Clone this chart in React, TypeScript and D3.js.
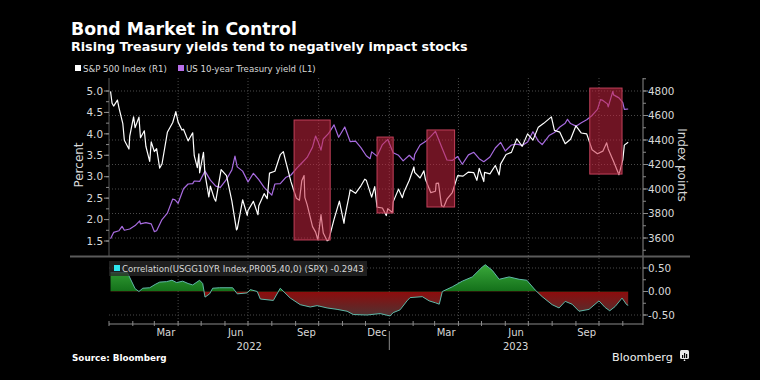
import React from 'react';
import * as d3 from 'd3';

const spxSeries: [string, number][] = [
  ["2022-01-03",4797],["2022-01-05",4700],["2022-01-07",4677],["2022-01-12",4726],["2022-01-14",4663],["2022-01-19",4533],["2022-01-21",4398],["2022-01-27",4326],["2022-01-28",4432],["2022-02-02",4589],["2022-02-04",4501],["2022-02-09",4587],["2022-02-11",4419],["2022-02-16",4475],["2022-02-18",4349],["2022-02-23",4225],["2022-02-25",4385],["2022-03-01",4306],["2022-03-04",4329],["2022-03-08",4171],["2022-03-11",4204],["2022-03-18",4463],["2022-03-25",4543],["2022-03-29",4632],["2022-04-01",4546],["2022-04-06",4481],["2022-04-08",4488],["2022-04-14",4393],["2022-04-20",4459],["2022-04-22",4272],["2022-04-26",4175],["2022-04-28",4287],["2022-04-29",4132],["2022-05-04",4300],["2022-05-06",4123],["2022-05-11",3935],["2022-05-13",4024],["2022-05-18",3923],["2022-05-20",3901],["2022-05-27",4158],["2022-06-03",4109],["2022-06-10",3901],["2022-06-16",3667],["2022-06-17",3675],["2022-06-24",3912],["2022-06-30",3785],["2022-07-01",3825],["2022-07-08",3899],["2022-07-14",3790],["2022-07-15",3863],["2022-07-22",3962],["2022-07-26",3921],["2022-07-29",4130],["2022-08-05",4145],["2022-08-12",4280],["2022-08-16",4305],["2022-08-19",4228],["2022-08-26",4058],["2022-09-02",3924],["2022-09-06",3908],["2022-09-09",4067],["2022-09-12",4110],["2022-09-13",3932],["2022-09-16",3873],["2022-09-23",3693],["2022-09-27",3648],["2022-09-30",3586],["2022-10-04",3791],["2022-10-07",3640],["2022-10-12",3577],["2022-10-14",3583],["2022-10-21",3752],["2022-10-28",3901],["2022-11-03",3720],["2022-11-04",3771],["2022-11-10",3956],["2022-11-11",3993],["2022-11-18",3965],["2022-11-25",4026],["2022-11-30",4080],["2022-12-02",4072],["2022-12-09",3934],["2022-12-13",4019],["2022-12-16",3852],["2022-12-23",3845],["2022-12-28",3783],["2022-12-30",3840],
  ["2023-01-05",3808],["2023-01-06",3895],["2023-01-13",3999],["2023-01-18",3929],["2023-01-20",3973],["2023-01-27",4071],["2023-02-02",4180],["2023-02-03",4136],["2023-02-10",4090],["2023-02-15",4148],["2023-02-17",4079],["2023-02-24",3970],["2023-03-02",3982],["2023-03-03",4046],["2023-03-06",4048],["2023-03-10",3862],["2023-03-13",3855],["2023-03-17",3917],["2023-03-24",3971],["2023-03-31",4109],["2023-04-07",4105],["2023-04-14",4138],["2023-04-21",4133],["2023-04-25",4071],["2023-04-28",4169],["2023-05-04",4061],["2023-05-05",4136],["2023-05-12",4124],["2023-05-19",4192],["2023-05-24",4115],["2023-05-26",4205],["2023-06-02",4282],["2023-06-09",4299],["2023-06-16",4410],["2023-06-23",4348],["2023-06-30",4450],["2023-07-07",4399],["2023-07-14",4505],["2023-07-21",4536],["2023-07-31",4589],["2023-08-04",4478],["2023-08-11",4464],["2023-08-18",4370],["2023-08-25",4406],["2023-09-01",4516],["2023-09-08",4457],["2023-09-15",4450],["2023-09-22",4320],["2023-09-29",4288],["2023-10-06",4309],["2023-10-11",4377],["2023-10-13",4327],["2023-10-20",4224],["2023-10-27",4117],["2023-11-01",4237],["2023-11-03",4358],["2023-11-08",4382]
];

const yieldSeries: [string, number][] = [
  ["2022-01-03",1.55],["2022-01-07",1.70],["2022-01-14",1.74],["2022-01-18",1.84],["2022-01-21",1.75],["2022-01-28",1.78],["2022-02-04",1.86],["2022-02-10",1.97],["2022-02-11",1.90],["2022-02-18",1.93],["2022-02-25",1.90],["2022-03-01",1.72],["2022-03-04",1.74],["2022-03-11",2.00],["2022-03-18",2.15],["2022-03-25",2.48],["2022-03-28",2.46],["2022-04-01",2.38],["2022-04-08",2.72],["2022-04-14",2.83],["2022-04-20",2.84],["2022-04-22",2.90],["2022-04-29",2.89],["2022-05-06",3.13],["2022-05-13",2.92],["2022-05-20",2.78],["2022-05-26",2.75],["2022-06-03",2.94],["2022-06-10",3.16],["2022-06-14",3.48],["2022-06-17",3.23],["2022-06-24",3.13],["2022-07-01",2.88],["2022-07-08",3.08],["2022-07-15",2.93],["2022-07-22",2.75],["2022-08-01",2.57],["2022-08-05",2.83],["2022-08-12",2.84],["2022-08-19",2.98],["2022-08-26",3.04],["2022-09-02",3.19],["2022-09-09",3.32],["2022-09-16",3.45],["2022-09-23",3.69],["2022-09-27",3.95],["2022-09-30",3.83],["2022-10-04",3.62],["2022-10-07",3.88],["2022-10-14",4.01],["2022-10-21",4.21],["2022-10-27",3.92],["2022-11-04",4.16],["2022-11-11",3.82],["2022-11-18",3.83],["2022-11-25",3.68],["2022-12-02",3.49],["2022-12-07",3.42],["2022-12-09",3.58],["2022-12-16",3.48],["2022-12-23",3.75],["2022-12-30",3.87],
  ["2023-01-06",3.56],["2023-01-13",3.50],["2023-01-19",3.37],["2023-01-27",3.50],["2023-02-02",3.39],["2023-02-03",3.52],["2023-02-10",3.74],["2023-02-17",3.82],["2023-02-24",3.94],["2023-03-02",4.06],["2023-03-10",3.70],["2023-03-17",3.39],["2023-03-24",3.38],["2023-03-31",3.47],["2023-04-06",3.29],["2023-04-14",3.51],["2023-04-21",3.57],["2023-04-28",3.42],["2023-05-04",3.35],["2023-05-12",3.46],["2023-05-19",3.67],["2023-05-26",3.80],["2023-06-01",3.60],["2023-06-09",3.74],["2023-06-16",3.76],["2023-06-23",3.73],["2023-06-30",3.81],["2023-07-07",4.05],["2023-07-14",3.83],["2023-07-19",3.75],["2023-07-28",3.96],["2023-08-04",4.03],["2023-08-11",4.16],["2023-08-18",4.25],["2023-08-21",4.34],["2023-08-25",4.24],["2023-09-01",4.18],["2023-09-08",4.26],["2023-09-15",4.33],["2023-09-22",4.43],["2023-09-29",4.57],["2023-10-03",4.80],["2023-10-06",4.78],["2023-10-12",4.70],["2023-10-13",4.63],["2023-10-19",4.99],["2023-10-20",4.91],["2023-10-27",4.84],["2023-11-01",4.73],["2023-11-03",4.57],["2023-11-08",4.58]
];

const corrSeries: [string, number][] = [
  ["2022-01-03",0.40],["2022-01-25",0.40],["2022-02-04",0.06],["2022-02-09",0.0],["2022-02-14",0.07],["2022-02-23",0.08],["2022-03-02",0.15],["2022-03-08",0.20],["2022-03-17",0.21],["2022-03-24",0.24],["2022-03-30",0.19],["2022-04-07",0.22],["2022-04-14",0.17],["2022-04-20",0.14],["2022-04-29",0.24],["2022-05-03",0.17],["2022-05-06",-0.12],["2022-05-12",-0.05],["2022-05-16",0.07],["2022-05-25",0.08],["2022-06-11",0.08],["2022-06-17",-0.05],["2022-06-30",-0.03],["2022-07-04",0.04],["2022-07-13",0.0],["2022-07-17",-0.16],["2022-08-03",-0.19],["2022-08-12",0.07],["2022-08-25",-0.14],["2022-09-07",-0.28],["2022-09-20",-0.33],["2022-09-29",-0.30],["2022-10-12",-0.35],["2022-10-25",-0.38],["2022-11-07",-0.42],["2022-11-15",-0.49],["2022-12-03",-0.50],["2022-12-20",-0.47],["2023-01-02",-0.52],["2023-01-06",-0.45],["2023-01-15",-0.39],["2023-01-24",-0.20],["2023-01-28",-0.13],["2023-02-13",-0.11],["2023-02-22",-0.20],["2023-03-02",-0.24],["2023-03-07",-0.27],["2023-03-11",0.0],["2023-03-24",0.10],["2023-04-06",0.22],["2023-04-19",0.31],["2023-05-02",0.52],["2023-05-06",0.57],["2023-05-15",0.45],["2023-05-24",0.26],["2023-06-06",0.31],["2023-06-19",0.26],["2023-06-29",0.24],["2023-07-10",0.03],["2023-07-19",-0.11],["2023-08-01",-0.28],["2023-08-10",-0.35],["2023-08-18",-0.21],["2023-08-27",-0.27],["2023-09-05",-0.42],["2023-09-18",-0.38],["2023-10-01",-0.20],["2023-10-09",-0.34],["2023-10-15",-0.41],["2023-10-22",-0.32],["2023-10-31",-0.14],["2023-11-06",-0.28],["2023-11-08",-0.2943]
];

// highlighted periods: start, end, S&P low, S&P high
const boxes: [string, string, number, number][] = [
  ["2022-08-30","2022-10-16",3584,4563],
  ["2022-12-16","2023-01-06",3804,4424],
  ["2023-02-19","2023-03-27",3853,4482],
  ["2023-09-19","2023-10-31",4122,4824],
];

const leftTicks = [1.5, 2.0, 2.5, 3.0, 3.5, 4.0, 4.5, 5.0];
const rightTicks = [3600, 3800, 4000, 4200, 4400, 4600, 4800];
const corrTicks = [-0.5, 0, 0.5];
const monthLabelDates = ["2022-03-16","2022-06-15","2022-09-15","2022-12-16","2023-03-16","2023-06-15","2023-09-15"];
const yearLabels = ["2022", "2023"];

const parse = d3.timeParse("%Y-%m-%d");
const FONT = "'DejaVu Sans', Verdana, sans-serif";

export default function App() {
  const W = 760, H = 380;
  const x0 = 109, x1 = 642;
  const mainTop = 78, mainBottom = 256;
  const axisY = 324;
  const start = new Date(2022, 0, 1);
  const end = new Date(2023, 10, 26);
  const x = d3.scaleTime().domain([start, end]).range([x0, x1]);
  const yL = d3.scaleLinear().domain([1.5, 5.0]).range([241, 91]);
  const yR = d3.scaleLinear().domain([3600, 4800]).range([238, 91]);
  const yC = d3.scaleLinear().domain([-0.5, 0.5]).range([315, 268]);

  const spx = spxSeries.map(([d, v]) => ({ d: parse(d)!, v }));
  const yld = yieldSeries.map(([d, v]) => ({ d: parse(d)!, v }));
  const cor = corrSeries.map(([d, v]) => ({ d: parse(d)!, v }));

  const spxLine = d3.line<{ d: Date; v: number }>().x(p => x(p.d)).y(p => yR(p.v))(spx)!;
  const yldLine = d3.line<{ d: Date; v: number }>().x(p => x(p.d)).y(p => yL(p.v))(yld)!;
  const corLine = d3.line<{ d: Date; v: number }>().x(p => x(p.d)).y(p => yC(p.v))(cor)!;
  const corArea = d3.area<{ d: Date; v: number }>().x(p => x(p.d)).y0(yC(0)).y1(p => yC(p.v))(cor)!;

  const quarters = d3.timeMonth.every(3)!.range(new Date(2022, 3, 1), end);
  const months = d3.timeMonth.range(start, end);
  const yearSep = new Date(2023, 0, 1);
  const fmtMonth = d3.timeFormat("%b");

  const leftMinor = d3.range(1.5, 5.01, 0.25);
  const rightMinor = d3.range(3500, 4901, 100);
  const corrMinor = d3.range(-0.5, 0.51, 0.25);
  const grid = "#4a4a4a";
  const axisCol = "#8a8a8a";
  const txt = "#d8d8d8";

  return (
    <svg width={W} height={H} style={{ position: 'absolute', left: 0, top: 0, display: 'block' }} fontFamily={FONT}>
      <defs>
        <linearGradient id="gGreen" gradientUnits="userSpaceOnUse" x1="0" x2="0" y1={yC(0.6)} y2={yC(0)}>
          <stop offset="0" stopColor="#3cab3c" />
          <stop offset="1" stopColor="#13701a" />
        </linearGradient>
        <linearGradient id="gRed" gradientUnits="userSpaceOnUse" x1="0" x2="0" y1={yC(0)} y2={yC(-0.55)}>
          <stop offset="0" stopColor="#8e0c0c" />
          <stop offset="1" stopColor="#4a3434" />
        </linearGradient>
        <clipPath id="above"><rect x={x0} y={mainBottom} width={x1 - x0} height={yC(0) - mainBottom} /></clipPath>
        <clipPath id="below"><rect x={x0} y={yC(0)} width={x1 - x0} height={axisY - yC(0)} /></clipPath>
      </defs>
      <rect x={0} y={0} width={W} height={H} fill="#000" />

      {/* Titles */}
      <text x={71} y={35} fill="#fff" fontSize={17.3} fontWeight="bold">Bond Market in Control</text>
      <text x={71} y={51} fill="#fff" fontSize={12.7} fontWeight="bold">Rising Treasury yields tend to negatively impact stocks</text>

      {/* Legend */}
      <rect x={75} y={65} width={6} height={6} fill="#fff" />
      <text x={83} y={72} fill={txt} fontSize={8.6}>S&amp;P 500 Index (R1)</text>
      <rect x={178} y={65} width={6} height={6} fill="#b86ee8" />
      <text x={186} y={72} fill={txt} fontSize={8.6}>US 10-year Treasury yield (L1)</text>

      {/* Horizontal grid (right axis) */}
      {rightTicks.map(t => (
        <line key={'hg' + t} x1={x0} x2={x1} y1={yR(t)} y2={yR(t)} stroke={grid} strokeDasharray="1,2" />
      ))}
      {/* Vertical grid */}
      {quarters.map(q => (
        <line key={'vg' + q.getTime()} x1={x(q)} x2={x(q)} y1={mainTop} y2={axisY} stroke={grid} strokeDasharray="1,2" />
      ))}
      {/* lower grid */}
      {[0.5, -0.5].map(t => (
        <line key={'cg' + t} x1={x0} x2={x1} y1={yC(t)} y2={yC(t)} stroke={grid} strokeDasharray="1,2" />
      ))}

      {/* Lines */}
      <path d={yldLine} fill="none" stroke="#a86be0" strokeWidth={1.2} strokeLinejoin="round" />
      <path d={spxLine} fill="none" stroke="#fff" strokeWidth={1.2} strokeLinejoin="round" />

      {/* Highlight boxes */}
      {boxes.map(([s, e, lo, hi], i) => {
        const bx = x(parse(s)!), bx2 = x(parse(e)!);
        return (
          <rect key={'b' + i} x={bx} y={yR(hi)} width={bx2 - bx} height={yR(lo) - yR(hi)}
            fill="#c8243f" fillOpacity={0.55} stroke="#c2405a" strokeWidth={1} />
        );
      })}

      {/* Left axis */}
      <line x1={x0} x2={x0} y1={mainTop} y2={mainBottom} stroke="#555" />
      {leftMinor.map(t => (
        <line key={'lm' + t} x1={x0 - 3} x2={x0} y1={yL(t)} y2={yL(t)} stroke={axisCol} />
      ))}
      {leftTicks.map(t => (
        <g key={'lt' + t}>
          <line x1={x0 - 5} x2={x0} y1={yL(t)} y2={yL(t)} stroke={axisCol} />
          <text x={x0 - 6} y={yL(t)} dy="0.36em" textAnchor="end" fill={txt} fontSize={10.4}>{t.toFixed(1)}</text>
        </g>
      ))}
      <text transform={`translate(83,165) rotate(-90)`} textAnchor="middle" fill={txt} fontSize={12}>Percent</text>

      {/* Right axis */}
      <line x1={x1 + 1} x2={x1 + 1} y1={mainTop} y2={axisY + 1} stroke={axisCol} />
      {rightMinor.filter(t => yR(t) >= mainTop && yR(t) <= mainBottom).map(t => (
        <line key={'rm' + t} x1={x1 + 1} x2={x1 + 4} y1={yR(t)} y2={yR(t)} stroke={axisCol} />
      ))}
      {rightTicks.map(t => (
        <g key={'rt' + t}>
          <line x1={x1 + 1} x2={x1 + 6} y1={yR(t)} y2={yR(t)} stroke={axisCol} />
          <text x={x1 + 6} y={yR(t)} dy="0.36em" fill={txt} fontSize={10.4}>{t}</text>
        </g>
      ))}
      <text transform={`translate(678,165) rotate(90)`} textAnchor="middle" fill={txt} fontSize={12}>Index points</text>

      {/* Panel separator */}
      <line x1={70} x2={690} y1={mainBottom + 0.5} y2={mainBottom + 0.5} stroke="#5a5a5a" strokeWidth={2} />

      {/* Correlation panel */}
      <path d={corArea} fill="url(#gGreen)" clipPath="url(#above)" />
      <path d={corArea} fill="url(#gRed)" clipPath="url(#below)" />
      <path d={corLine} fill="none" stroke="#5fb8a8" strokeWidth={1} strokeLinejoin="round" />
      {corrMinor.map(t => (
        <line key={'cm' + t} x1={x1 + 1} x2={x1 + 4} y1={yC(t)} y2={yC(t)} stroke={axisCol} />
      ))}
      {corrTicks.map(t => (
        <g key={'ct' + t}>
          <line x1={x1 + 1} x2={x1 + 6} y1={yC(t)} y2={yC(t)} stroke={axisCol} />
          <text x={x1 + 6} y={yC(t)} dy="0.36em" fill={txt} fontSize={10.4}>{t.toFixed(2)}</text>
        </g>
      ))}
      <rect x={x0} y={261} width={258} height={15} fill="#2a2a2a" fillOpacity={0.75} />
      <rect x={114} y={265} width={6} height={6} fill="#2ee6f0" />
      <text x={122} y={272} fill={txt} fontSize={8.6}>Correlation(USGG10YR Index,PR005,40,0) (SPX) -0.2943</text>

      {/* X axis */}
      <line x1={x0} x2={x1 + 1} y1={axisY} y2={axisY} stroke={axisCol} />
      {months.map(m => (
        <line key={'mt' + m.getTime()} x1={x(m)} x2={x(m)} y1={axisY - 3} y2={axisY + 2} stroke={axisCol} />
      ))}
      {monthLabelDates.map(s => {
        const d = parse(s)!;
        return <text key={'ml' + s} x={x(d)} y={336} textAnchor="middle" fill={txt} fontSize={10}>{fmtMonth(d)}</text>;
      })}
      <line x1={x(yearSep)} x2={x(yearSep)} y1={331} y2={350} stroke={axisCol} />
      <text x={(x(start) + x(yearSep)) / 2} y={350} textAnchor="middle" fill={txt} fontSize={10}>{yearLabels[0]}</text>
      <text x={(x(yearSep) + x(end)) / 2} y={350} textAnchor="middle" fill={txt} fontSize={10}>{yearLabels[1]}</text>

      {/* Footer */}
      <text x={72} y={361} fill="#fff" fontSize={8.8} fontWeight="bold">Source: Bloomberg</text>
      <text x={612} y={361} fill="#f0f0f0" fontSize={11.2} fontWeight={500}>Bloomberg</text>
      <g>
        <rect x={680} y={350} width={9} height={9} rx={1.5} fill="#e8e8e8" />
        <path d="M683.5,361 L684.5,359 L685.5,361 Z" fill="#e8e8e8" />
        <rect x={682} y={355} width={1.2} height={3} fill="#000" />
        <rect x={684} y={353} width={1.2} height={5} fill="#000" />
        <rect x={686} y={354} width={1.2} height={4} fill="#000" />
      </g>
    </svg>
  );
}
